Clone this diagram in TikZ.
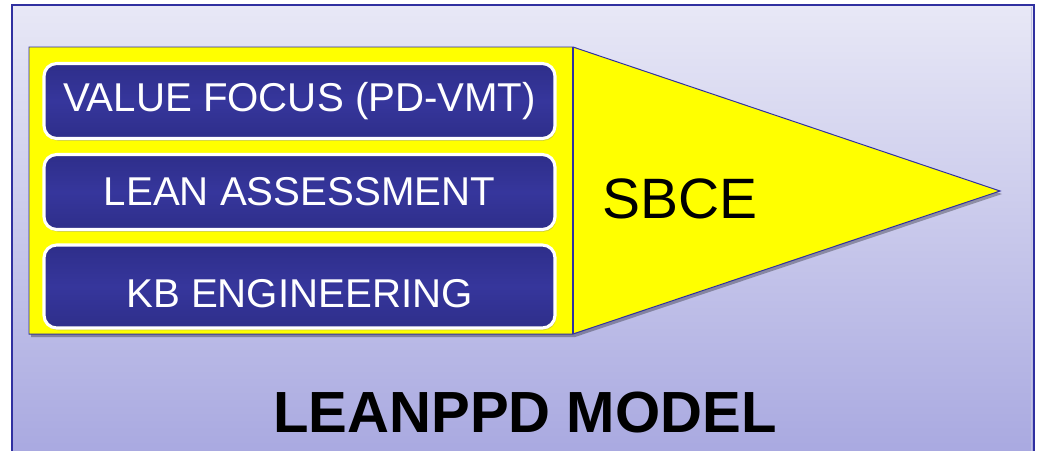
\documentclass[tikz,border=0pt]{standalone}
\usepackage{fontspec}
\setmainfont{Liberation Sans}
\usetikzlibrary{shadows,calc}
\definecolor{frameblue}{RGB}{48,48,160}
\definecolor{bgtop}{RGB}{232,232,246}
\definecolor{bgbottom}{RGB}{168,168,224}
\definecolor{navy}{RGB}{46,46,138}
\definecolor{navylight}{RGB}{54,54,156}
\definecolor{pyellow}{RGB}{255,255,0}
\tikzset{
  pillar/.style={draw=white, line width=2.2pt, rounded corners=9pt,
    top color=navy, bottom color=navy, middle color=navylight,
    minimum width=511*0.025cm, minimum height=75*0.025cm,
    text=white, font=\fontsize{28.6}{31}\selectfont, inner sep=0pt,
    drop shadow={shadow xshift=0.8pt, shadow yshift=-1.6pt, opacity=0.35}},
  panelshape/.style={fill=pyellow, draw=frameblue, line width=0.7pt},
  softshadow/.style={fill=black, opacity=0.3}
}
\begin{document}
\begin{tikzpicture}[x=0.025cm, y=-0.025cm]
  \useasboundingbox (0,0) rectangle (1040,450);
  % page background and framed gradient field
  \fill[white] (0,0) rectangle (1040,450);
  \shade[top color=bgtop, bottom color=bgbottom] (12,5) rectangle (1034,460);
  \draw[frameblue, line width=1.3pt] (12,460) -- (12,5) -- (1034,5) -- (1034,460);
  \draw[white!70!frameblue, line width=0.6pt] (1031,7) -- (1031,460);

  % yellow arrow: rectangular panel plus triangular point
  \coordinate (pTL) at (29,47);
  \coordinate (pTR) at (573,47);
  \coordinate (pBR) at (573,334);
  \coordinate (pBL) at (29,334);
  \coordinate (tip) at (1000,191);
  \fill[softshadow] ($(pTL)+(2,3)$) -- ($(pTR)+(2,3)$) -- ($(tip)+(2,3)$) -- ($(pBR)+(2,3)$) -- ($(pBL)+(2,3)$) -- cycle;
  \path[panelshape] (pTL) -- (pTR) -- (tip) -- (pBR) -- (pBL) -- cycle;
  \draw[frameblue, line width=0.9pt] (pTR) -- (pBR);

  % the three stacked pillars
  \node[pillar] (vf) at (299.5,101) {VALUE FOCUS (PD-VMT)};
  \node[pillar] (la) at (299.5,192) {LEAN ASSESSMENT};
  \node[pillar, minimum height=83*0.025cm, text height=30pt, text depth=0pt] (kb) at (299.5,286.5) {KB ENGINEERING};

  % labels
  \node[font=\fontsize{40.5}{44}\selectfont, inner sep=0pt] (sbce) at (680,199) {SBCE};
  \node[font=\fontsize{41.3}{44}\selectfont\bfseries, inner sep=0pt] (title) at (525,412) {LEANPPD MODEL};
\end{tikzpicture}
\end{document}
